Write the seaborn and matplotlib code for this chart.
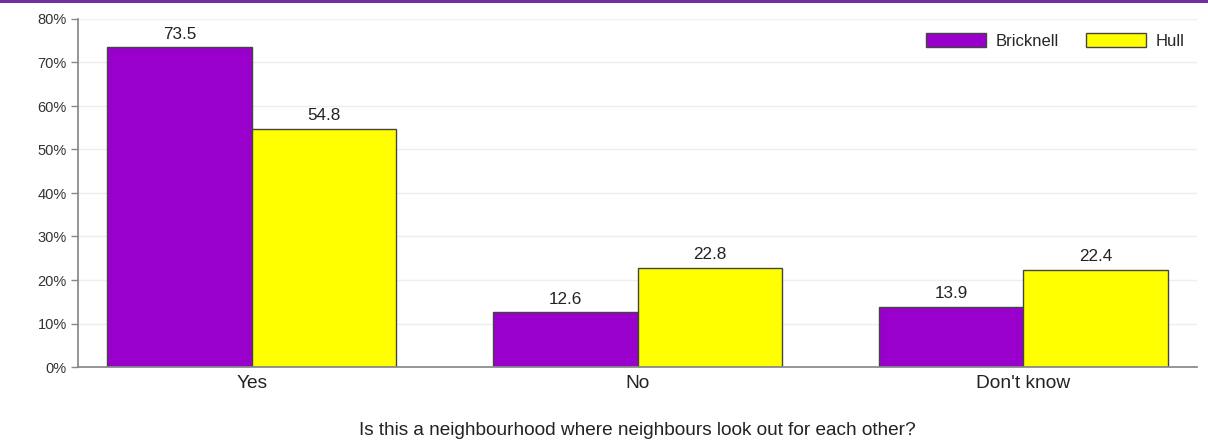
import pandas as pd
import matplotlib.pyplot as plt
import matplotlib.patches as mpatches
import seaborn as sns

categories = ["Yes", "No", "Don't know"]
bricknell = [73.5, 12.6, 13.9]
hull = [54.8, 22.8, 22.4]
areas = ["Bricknell", "Hull"]
colors = ["#9900CC", "#FFFF00"]

df = pd.DataFrame({
    "answer": categories * 2,
    "area": [areas[0]] * 3 + [areas[1]] * 3,
    "value": bricknell + hull,
})

sns.set_theme(style="white")
plt.rcParams["font.family"] = ["Liberation Sans", "DejaVu Sans"]

fig = plt.figure(figsize=(12.08, 4.48), dpi=100)
ax = fig.add_axes([78 / 1208, 1 - 367 / 448, 1119 / 1208, 348 / 448])

sns.barplot(data=df, x="answer", y="value", hue="area", order=categories,
            hue_order=areas, palette=colors, width=0.75, gap=0,
            edgecolor="#444444", linewidth=1, saturation=1, ax=ax)

for cont in ax.containers:
    ax.bar_label(cont, fmt="%.1f", padding=4, fontsize=12.3, color="#222222")

ax.set_ylim(0, 80)
ax.set_xlim(-0.45, 2.45)
ax.set_yticks(range(0, 81, 10))
ax.set_yticklabels([f"{v}%" for v in range(0, 81, 10)], fontsize=10.5, color="#333333")
ax.tick_params(axis="y", length=5, width=1, color="#888888", left=True, pad=3)
ax.tick_params(axis="x", length=0, labelsize=13.8, colors="#222222", pad=6)
ax.yaxis.grid(True, color="#EEEEEE", linewidth=1)
ax.set_axisbelow(True)
ax.set_ylabel("")
ax.set_xlabel("Is this a neighbourhood where neighbours look out for each other?",
              fontsize=13.7, color="#222222", labelpad=21)
for s in ["top", "right"]:
    ax.spines[s].set_visible(False)
ax.spines["left"].set_color("#888888")
ax.spines["bottom"].set_color("#888888")

handles = [mpatches.Patch(facecolor=c, edgecolor="#444444", label=a) for a, c in zip(areas, colors)]
ax.legend(handles=handles, loc="upper right", ncol=2, frameon=False, fontsize=12,
          handlelength=3.6, handleheight=0.9, columnspacing=1.6, handletextpad=0.6,
          borderaxespad=0.3, bbox_to_anchor=(0.9995, 0.993))

# purple band at the top of the page
fig.patches.append(mpatches.Rectangle((0, 1 - 3 / 448), 1, 3 / 448, transform=fig.transFigure,
                                      facecolor="#7030A0", edgecolor="none"))

fig.savefig("out.png", dpi=100)
